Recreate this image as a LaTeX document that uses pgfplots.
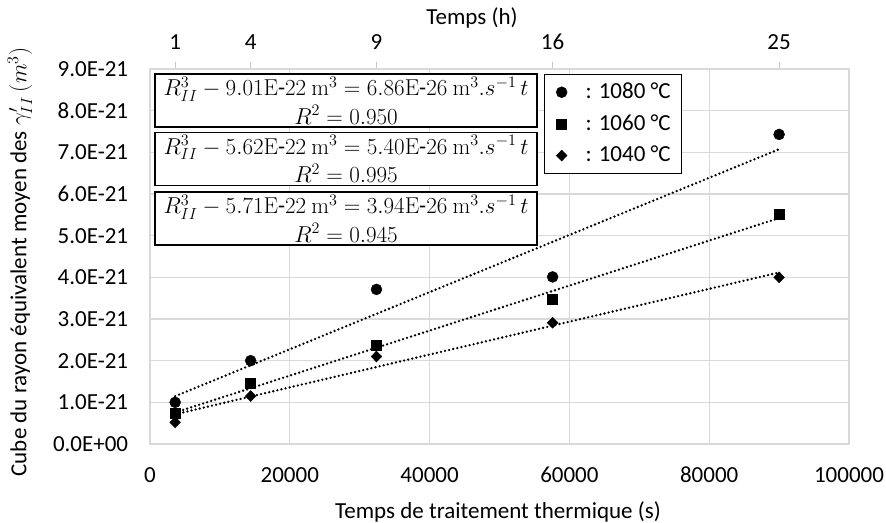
\RequirePackage{fix-cm}
\documentclass[border=0pt]{standalone}
\usepackage[no-math]{fontspec}
\setmainfont{Carlito}
\usepackage{pgfplots}
\pgfplotsset{compat=1.18}
\definecolor{gridgray}{RGB}{217,217,217}
\definecolor{tickgray}{RGB}{200,200,200}
\begin{document}
\fontsize{23}{27}\selectfont
\begin{tikzpicture}[x=1pt,y=1pt]
\path[use as bounding box] (-150,-78) rectangle (736,444);
\begin{axis}[
  at={(0,0)}, anchor=south west, scale only axis, width=699pt, height=375pt,
  xmin=0, xmax=100000, ymin=0, ymax=9,
  scaled x ticks=false, scaled y ticks=false,
  xtick={0,20000,40000,60000,80000,100000},
  xticklabels={0,20000,40000,60000,80000,100000},
  ytick={0,1,2,3,4,5,6,7,8,9},
  yticklabels={0.0E+00,1.0E-21,2.0E-21,3.0E-21,4.0E-21,5.0E-21,6.0E-21,7.0E-21,8.0E-21,9.0E-21},
  grid=major, major grid style={draw=gridgray, line width=1.2pt},
  axis line style={draw=gridgray, line width=1.2pt},
  major tick length=0pt, tick style={draw=none},
  every tick label/.append style={font=\fontsize{23}{27}\selectfont},
  xticklabel style={anchor=base, yshift=-38pt},
  yticklabel style={xshift=-14pt},
  clip=false,
  legend style={at={(axis description cs:0.5637,0.9867)}, anchor=north west, draw=black, line width=1.3pt, fill=white, inner xsep=9pt, inner ysep=6pt, row sep=8.5pt, font=\fontsize{23}{27}\selectfont, cells={anchor=west}},
  legend image code/.code={\path[draw=none] (0pt,0pt) -- (24pt,0pt); \draw[#1] plot coordinates {(8pt,0pt)};},
]
\addplot[forget plot, black, line width=2.6pt, line cap=round, dash pattern=on 0pt off 4.2pt] coordinates {(3600,1.148)(90000,7.075)};
\addplot[forget plot, black, line width=2.6pt, line cap=round, dash pattern=on 0pt off 4.2pt] coordinates {(3600,0.756)(90000,5.422)};
\addplot[forget plot, black, line width=2.6pt, line cap=round, dash pattern=on 0pt off 4.2pt] coordinates {(3600,0.713)(90000,4.117)};
\addplot[only marks, mark=*, mark size=5.5pt, black, mark options={line width=0.4pt}] coordinates {(3600,1.00)(14400,2.00)(32400,3.71)(57600,4.01)(90000,7.43)};
\addlegendentry{\hspace{6pt}: 1080 °C}
\addplot[only marks, mark=square*, mark size=5pt, black, mark options={line width=0.4pt}] coordinates {(3600,0.74)(14400,1.46)(32400,2.37)(57600,3.47)(90000,5.52)};
\addlegendentry{\hspace{6pt}: 1060 °C}
\addplot[only marks, mark=diamond*, mark size=5.5pt, black, mark options={line width=0.4pt, xscale=1.3}] coordinates {(3600,0.52)(14400,1.15)(32400,2.10)(57600,2.91)(90000,4.00)};
\addlegendentry{\hspace{6pt}: 1040 °C}
\end{axis}
\begin{axis}[
  at={(0,0)}, anchor=south west, scale only axis, width=699pt, height=375pt,
  xmin=0, xmax=100000, ymin=0, ymax=9,
  scaled x ticks=false,
  axis x line*=top, axis y line=none,
  axis line style={draw=gridgray, line width=1.2pt},
  xtick={3600,14400,32400,57600,90000},
  xticklabels={1,4,9,16,25},
  tick align=outside, major tick length=7pt,
  tick style={draw=tickgray, line width=1.2pt},
  every tick label/.append style={font=\fontsize{23}{27}\selectfont},
  xticklabel style={anchor=base, yshift=12pt},
]
\end{axis}
\node[font=\fontsize{23}{27}\selectfont, anchor=base] at (322,419) {Temps (h)};
\node[font=\fontsize{23}{27}\selectfont, anchor=base] at (348,-74) {Temps de traitement thermique (s)};
\node[font=\fontsize{23}{27}\selectfont, rotate=90] at (-130,182) {Cube du rayon équivalent moyen des $\gamma'_{II}$ $(m^3)$};
\begin{scope}[every node/.style={draw=black, line width=1.4pt, fill=white, minimum width=382pt, minimum height=53pt, align=center, inner sep=0pt, font=\fontsize{23}{24}\selectfont}]
\node at (196,343.5) {$R_{II}^3 - 9.01\mathrm{E}\mbox{-}22\ \mathrm{m}^3 = 6.86\mathrm{E}\mbox{-}26\ \mathrm{m}^3.s^{-1}\,t$\\[3pt]$R^2 = 0.950$};
\node at (196,285) {$R_{II}^3 - 5.62\mathrm{E}\mbox{-}22\ \mathrm{m}^3 = 5.40\mathrm{E}\mbox{-}26\ \mathrm{m}^3.s^{-1}\,t$\\[3pt]$R^2 = 0.995$};
\node at (196,225.5) {$R_{II}^3 - 5.71\mathrm{E}\mbox{-}22\ \mathrm{m}^3 = 3.94\mathrm{E}\mbox{-}26\ \mathrm{m}^3.s^{-1}\,t$\\[3pt]$R^2 = 0.945$};
\end{scope}
\end{tikzpicture}
\end{document}
